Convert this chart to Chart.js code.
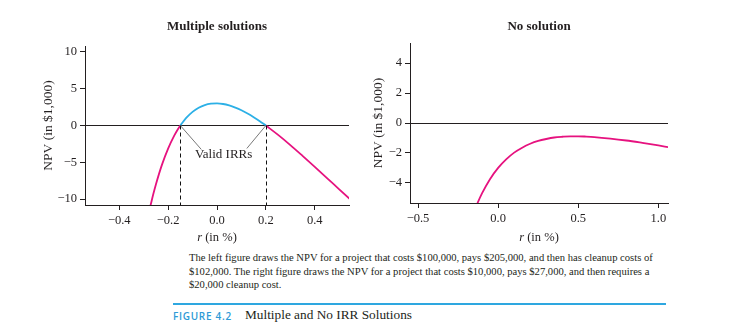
<!DOCTYPE html>
<html>
<head>
<meta charset="utf-8">
<script src="https://cdn.jsdelivr.net/npm/chart.js@4.4.1/dist/chart.umd.min.js"></script>
<style>
  body { margin: 0; background: #fff; width: 747px; height: 335px; position: relative; overflow: hidden;
         font-family: "Liberation Serif", "DejaVu Serif", serif; color: #231f20; }
  #leftChart { position: absolute; left: 0; top: 0; }
  #rightChart { position: absolute; left: 360px; top: 0; }
  .caption { position: absolute; left: 189px; top: 251px; font-size: 10.6px; line-height: 13.6px; white-space: nowrap; }
  .rule { position: absolute; left: 173px; top: 303px; width: 493px; height: 1.5px; background: #2ea7e0; }
  .figno { position: absolute; left: 173px; top: 309px; font-family: "Open Sans", sans-serif; font-weight: 600;
           font-size: 10px; letter-spacing: 0.7px; color: #2e9ad6; line-height: 14px; }
  .figtitle { position: absolute; left: 245px; top: 307px; font-size: 13.3px; line-height: 16px; }
</style>
</head>
<body>
<canvas id="leftChart" width="360" height="250"></canvas>
<canvas id="rightChart" width="330" height="250"></canvas>

<div class="caption">
  The left figure draws the NPV for a project that costs $100,000, pays $205,000, and then has cleanup costs of<br>
  $102,000. The right figure draws the NPV for a project that costs $10,000, pays $27,000, and then requires a<br>
  $20,000 cleanup cost.
</div>
<div class="rule"></div>
<div class="figno">FIGURE 4.2</div>
<div class="figtitle">Multiple and No IRR Solutions</div>

<script>
// Left panel: cost 100, pays 205, cleanup 102 (in $1,000)
const leftLowRates  = [-0.272, -0.26, -0.25, -0.225, -0.2, -0.175, -0.16, -0.15];
const leftLowNpv    = [-10.87, -9.24, -8.0, -5.31, -3.13, -1.38, -0.51, 0];
const leftMidRates  = [-0.15, -0.125, -0.1, -0.075, -0.05, -0.025, 0, 0.025, 0.05, 0.075, 0.1, 0.125, 0.15, 0.175, 0.2];
const leftMidNpv    = [0, 1.06, 1.85, 2.41, 2.77, 2.96, 3.0, 2.92, 2.72, 2.43, 2.07, 1.63, 1.13, 0.59, 0];
const leftHighRates = [0.2, 0.25, 0.3, 0.35, 0.4, 0.45, 0.5, 0.55];
const leftHighNpv   = [0, -1.28, -2.66, -4.12, -5.61, -7.14, -8.67, -10.2];
const leftXTicks = [-0.4, -0.2, 0, 0.2, 0.4];
const leftYTicks = [-10, -5, 0, 5, 10];
const validIrrs = [-0.15, 0.2];

// Right panel: cost 10, pays 27, cleanup 20
const rightRates = [-0.135, -0.13, -0.1, -0.05, 0, 0.05, 0.1, 0.15, 0.2, 0.25, 0.3, 0.35, 0.4, 0.45, 0.5, 0.55, 0.6, 0.7, 0.8, 0.9, 1.0, 1.06];
const rightNpv   = [-5.52, -5.39, -4.69, -3.74, -3.0, -2.43, -1.98, -1.65, -1.39, -1.2, -1.07, -0.97, -0.92, -0.89, -0.89, -0.91, -0.94, -1.04, -1.17, -1.33, -1.5, -1.61];
const rightXTicks = [-0.5, 0, 0.5, 1.0];
const rightYTicks = [-4, -2, 0, 2, 4];

const INK = '#231f20';
const PINK = '#e6127f';
const BLUE = '#2cb0e6';
const SERIF = '"Liberation Serif", "DejaVu Serif", serif';

const pts = (xs, ys) => xs.map((x, i) => ({ x, y: ys[i] }));
const minus = v => (v < 0 ? '\u2212' : '') + Math.abs(v);
const minusFixed = v => (v < 0 ? '\u2212' : '') + Math.abs(v).toFixed(1);

function curve(data, color) {
  return {
    data, borderColor: color, borderWidth: 1.8, pointRadius: 0,
    cubicInterpolationMode: 'monotone', fill: false, clip: 0
  };
}

// italic "r" followed by " (in %)" under the x axis
const rAxisTitle = {
  id: 'rAxisTitle',
  afterDraw(chart) {
    const { ctx, chartArea } = chart;
    const cx = (chartArea.left + chartArea.right) / 2;
    const y = 238;
    ctx.save();
    ctx.fillStyle = INK;
    ctx.textBaseline = 'middle';
    ctx.font = 'italic 12.5px ' + SERIF;
    const w1 = ctx.measureText('r').width;
    ctx.font = '12.5px ' + SERIF;
    const w2 = ctx.measureText(' (in %)').width;
    const x = cx - (w1 + w2) / 2;
    ctx.font = 'italic 12.5px ' + SERIF;
    ctx.fillText('r', x, y);
    ctx.font = '12.5px ' + SERIF;
    ctx.fillText(' (in %)', x + w1, y);
    ctx.restore();
  }
};

// dashed drops and leader lines to the "Valid IRRs" label
const irrMarks = {
  id: 'irrMarks',
  afterDatasetsDraw(chart) {
    const { ctx, chartArea, scales: { x, y } } = chart;
    const label = { x: 0.027, y: -4.0 };
    const leaderEnds = [{ x: -0.064, y: -3.26 }, { x: 0.122, y: -3.12 }];
    ctx.save();
    ctx.strokeStyle = '#111';
    ctx.lineWidth = 1;
    ctx.setLineDash([4, 3]);
    validIrrs.forEach(r => {
      const px = Math.round(x.getPixelForValue(r)) + 0.5;
      ctx.beginPath();
      ctx.moveTo(px, y.getPixelForValue(0));
      ctx.lineTo(px, chartArea.bottom);
      ctx.stroke();
    });
    ctx.setLineDash([]);
    ctx.strokeStyle = '#555';
    ctx.lineWidth = 0.8;
    validIrrs.forEach((r, i) => {
      ctx.beginPath();
      ctx.moveTo(x.getPixelForValue(r), y.getPixelForValue(0));
      ctx.lineTo(x.getPixelForValue(leaderEnds[i].x), y.getPixelForValue(leaderEnds[i].y));
      ctx.stroke();
    });
    ctx.fillStyle = INK;
    ctx.font = '13px ' + SERIF;
    ctx.textAlign = 'center';
    ctx.textBaseline = 'middle';
    ctx.fillText('Valid IRRs', x.getPixelForValue(label.x), y.getPixelForValue(label.y));
    ctx.restore();
  }
};

function buildPanel(canvasId, cfg) {
  return new Chart(document.getElementById(canvasId), {
    type: 'line',
    data: { datasets: cfg.datasets },
    options: {
      responsive: false,
      animation: false,
      layout: { padding: { left: 0, right: cfg.padRight, top: 0, bottom: 0 } },
      plugins: {
        legend: { display: false },
        tooltip: { enabled: false },
        title: {
          display: true, text: cfg.title, color: INK, fullSize: false,
          font: { family: SERIF, size: 13, weight: 'bold', lineHeight: 1.2 },
          padding: { top: 19, bottom: cfg.titleGap }
        }
      },
      scales: {
        x: {
          type: 'linear', min: cfg.xMin, max: cfg.xMax,
          afterBuildTicks: s => { s.ticks = cfg.xTicks.map(v => ({ value: v })); },
          afterFit: s => { s.height = cfg.xHeight; },
          border: { color: INK, width: 1 },
          grid: { drawOnChartArea: false, tickLength: 5, tickColor: INK },
          ticks: { color: INK, padding: 3, maxRotation: 0, font: { family: SERIF, size: 12.5 }, callback: cfg.xFormat }
        },
        y: {
          min: cfg.yMin, max: cfg.yMax,
          afterBuildTicks: s => { s.ticks = cfg.yTicks.map(v => ({ value: v })); },
          afterFit: s => { s.width = cfg.yWidth; },
          border: { color: INK, width: 1 },
          grid: {
            tickLength: 5, tickColor: INK, lineWidth: 1,
            color: c => (c.tick && c.tick.value === 0 ? INK : 'rgba(0,0,0,0)')
          },
          ticks: { color: INK, padding: 3, font: { family: SERIF, size: 12.5 }, callback: v => minus(v) },
          title: {
            display: true, text: 'NPV (in $1,000)', color: INK,
            font: { family: SERIF, size: 13.5, lineHeight: 1.2 },
            padding: { top: cfg.yTitlePad, bottom: 0 }
          }
        }
      }
    },
    plugins: cfg.plugins
  });
}

buildPanel('leftChart', {
  title: 'Multiple solutions',
  datasets: [
    curve(pts(leftLowRates, leftLowNpv), PINK),
    curve(pts(leftMidRates, leftMidNpv), BLUE),
    curve(pts(leftHighRates, leftHighNpv), PINK)
  ],
  xMin: -0.54, xMax: 0.54, yMin: -10.8, yMax: 10.8,
  xTicks: leftXTicks, yTicks: leftYTicks, xFormat: v => minusFixed(v),
  padRight: 11, titleGap: 11.4, xHeight: 45, yWidth: 85, yTitlePad: 40,
  plugins: [irrMarks, rAxisTitle]
});

buildPanel('rightChart', {
  title: 'No solution',
  datasets: [curve(pts(rightRates, rightNpv), PINK)],
  xMin: -0.55, xMax: 1.06, yMin: -5.35, yMax: 5.35,
  xTicks: rightXTicks, yTicks: rightYTicks, xFormat: v => minusFixed(v),
  padRight: 22, titleGap: 8.4, xHeight: 47, yWidth: 50, yTitlePad: 10,
  plugins: [rAxisTitle]
});
</script>
</body>
</html>
